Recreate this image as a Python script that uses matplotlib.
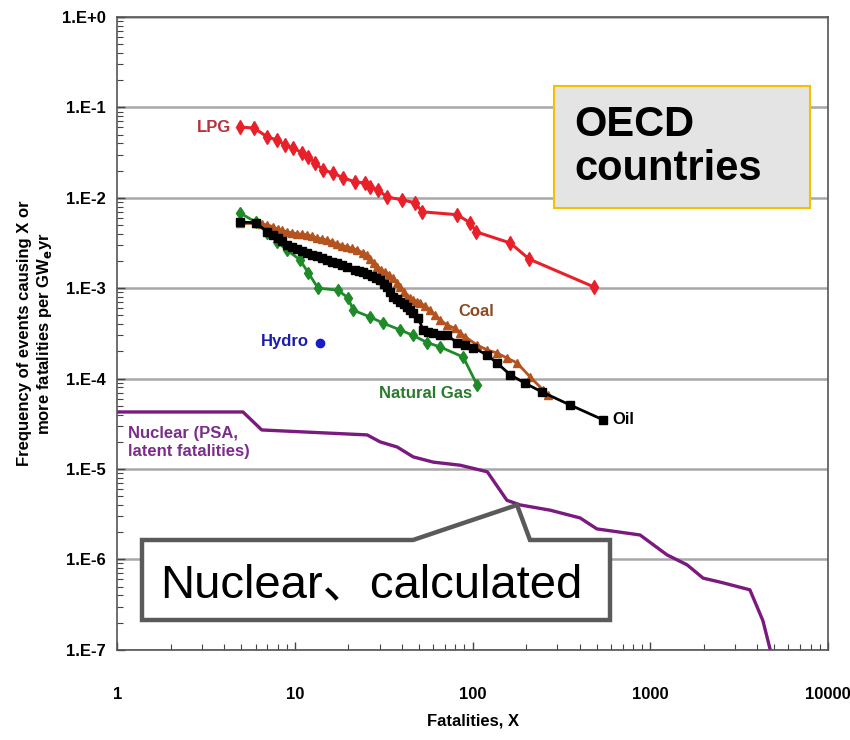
import matplotlib
matplotlib.use("Agg")
import matplotlib.pyplot as plt
from matplotlib.patches import Polygon, Rectangle

plt.rcParams['font.family'] = ['Liberation Sans', 'DejaVu Sans']

# --- data (fatalities X, frequency per GWe-yr) ---
lpg_x = [4.9, 5.9, 7.0, 7.95, 8.8, 9.8, 11.0, 11.9, 13.0, 14.4, 16.4, 18.7, 21.8, 24.8,
         26.5, 29.4, 33.0, 40.1, 47.5, 52.0, 81.8, 96.8, 104.7, 163, 208, 483]
lpg_y = [6.07e-2, 5.9e-2, 4.7e-2, 4.36e-2, 3.84e-2, 3.56e-2, 3.13e-2, 2.83e-2, 2.43e-2,
         2.03e-2, 1.88e-2, 1.66e-2, 1.50e-2, 1.46e-2, 1.32e-2, 1.22e-2, 1.02e-2, 9.5e-3,
         8.8e-3, 7.0e-3, 6.5e-3, 5.3e-3, 4.2e-3, 3.16e-3, 2.1e-3, 1.03e-3]

coal_x = [4.9, 6.0, 6.5, 7.0, 7.5, 8.0, 8.5, 9.0, 9.6, 10.3, 11.0, 11.7, 12.5, 13.3, 14.2,
          15.2, 16.2, 17.3, 18.5, 19.7, 21.0, 22.4, 24.2, 25.3, 26.5, 27.7, 29.0, 30.5,
          32.2, 34.0, 35.7, 37.5, 39.1, 41.0, 42.8, 44.5, 46.3, 48.5, 50.7, 54.0, 57.7,
          61.5, 65.6, 71.9, 79.7, 85.1, 90.8, 106, 121, 137, 156, 178, 211, 249, 266]
coal_y = [5.2e-3, 5.2e-3, 5.1e-3, 5.0e-3, 4.8e-3, 4.5e-3, 4.35e-3, 4.2e-3, 4.1e-3, 4.0e-3,
          3.95e-3, 3.9e-3, 3.75e-3, 3.6e-3, 3.5e-3, 3.4e-3, 3.25e-3, 3.1e-3, 2.95e-3,
          2.86e-3, 2.75e-3, 2.65e-3, 2.45e-3, 2.3e-3, 2.1e-3, 1.9e-3, 1.72e-3, 1.6e-3,
          1.51e-3, 1.4e-3, 1.3e-3, 1.15e-3, 1.03e-3, 9.0e-4, 8.0e-4, 7.7e-4, 7.4e-4,
          7.1e-4, 6.9e-4, 6.3e-4, 5.7e-4, 5.0e-4, 4.45e-4, 3.9e-4, 3.6e-4, 3.2e-4, 2.9e-4,
          2.35e-4, 2.07e-4, 1.92e-4, 1.69e-4, 1.49e-4, 1.04e-4, 7.5e-5, 6.6e-5]

oil_x = [4.9, 6.0, 7.0, 7.5, 8.0, 8.5, 9.0, 9.6, 10.3, 11.0, 11.7, 12.5, 13.3, 14.2, 15.2,
         16.2, 17.3, 18.5, 19.7, 21.8, 23.0, 24.2, 25.6, 27.2, 28.7, 30.2, 31.6, 33.0,
         34.3, 35.7, 37.4, 39.1, 40.9, 42.8, 44.5, 46.3, 49.3, 52.7, 56.0, 60.0, 65.6,
         71.9, 81.8, 90.8, 100.7, 121, 137, 163, 197, 246, 354, 542]
oil_y = [5.4e-3, 5.3e-3, 4.2e-3, 3.9e-3, 3.6e-3, 3.3e-3, 3.0e-3, 2.85e-3, 2.7e-3, 2.55e-3,
         2.45e-3, 2.35e-3, 2.27e-3, 2.15e-3, 2.05e-3, 1.97e-3, 1.9e-3, 1.8e-3, 1.72e-3,
         1.59e-3, 1.55e-3, 1.51e-3, 1.43e-3, 1.36e-3, 1.3e-3, 1.23e-3, 1.12e-3, 1.03e-3,
         9.0e-4, 8.0e-4, 7.5e-4, 7.0e-4, 6.6e-4, 6.2e-4, 5.7e-4, 5.3e-4, 4.7e-4, 3.45e-4,
         3.3e-4, 3.2e-4, 3.0e-4, 3.0e-4, 2.5e-4, 2.35e-4, 2.2e-4, 1.82e-4, 1.49e-4,
         1.1e-4, 8.9e-5, 7.1e-5, 5.1e-5, 3.5e-5]

gas_x = [4.9, 6.0, 7.0, 7.95, 9.0, 10.7, 11.9, 13.5, 17.5, 19.9, 21.3, 26.5, 31.4, 39.1,
         46.3, 55.5, 65.6, 88.5, 106]
gas_y = [6.8e-3, 5.4e-3, 4.1e-3, 3.24e-3, 2.65e-3, 2.05e-3, 1.47e-3, 1.0e-3, 9.5e-4,
         7.8e-4, 5.7e-4, 4.8e-4, 4.1e-4, 3.45e-4, 3.0e-4, 2.5e-4, 2.24e-4, 1.73e-4, 8.5e-5]

hydro_x = [13.9]
hydro_y = [2.5e-4]

nuclear_x = [1.0, 5.1, 6.5, 25.5, 30.2, 37.6, 46.3, 60.0, 85.1, 121, 156, 185, 273,
             403, 501, 876, 1243, 1611, 1983, 2566, 3638, 4305, 4800]
nuclear_y = [4.27e-5, 4.27e-5, 2.7e-5, 2.38e-5, 1.99e-5, 1.75e-5, 1.36e-5, 1.19e-5,
             1.1e-5, 9.3e-6, 4.5e-6, 4.0e-6, 3.5e-6, 2.87e-6, 2.17e-6, 1.86e-6, 1.12e-6,
             8.7e-7, 6.2e-7, 5.5e-7, 4.6e-7, 2.1e-7, 9.0e-8]

x_ticks = [1, 10, 100, 1000, 10000]
x_labels = ["1", "10", "100", "1000", "10000"]
y_ticks = [1e0, 1e-1, 1e-2, 1e-3, 1e-4, 1e-5, 1e-6, 1e-7]
y_labels = ["1.E+0", "1.E-1", "1.E-2", "1.E-3", "1.E-4", "1.E-5", "1.E-6", "1.E-7"]


def main():
    fig = plt.figure(figsize=(8.5, 7.4), dpi=100)
    ax = fig.add_axes([0.138, 0.122, 0.836, 0.855])
    ax.set_xscale("log")
    ax.set_yscale("log")
    ax.set_xlim(1, 10000)
    ax.set_ylim(1e-7, 1)

    for y in y_ticks:
        ax.axhline(y, color="#a8a8a8", lw=1.8, zorder=0)

    ax.plot(nuclear_x, nuclear_y, color="#7a1a7e", lw=2.4, zorder=2)
    ax.plot(lpg_x, lpg_y, color="#e8202a", lw=2.2, marker="d", ms=7, zorder=3)
    ax.plot(coal_x, coal_y, color="#b4531e", lw=2, marker="^", ms=6, zorder=3)
    ax.plot(gas_x, gas_y, color="#1e8a28", lw=2, marker="d", ms=6, zorder=4)
    ax.plot(oil_x, oil_y, color="black", lw=2, marker="s", ms=5.5, zorder=4)
    ax.plot(hydro_x, hydro_y, color="#1a1acc", marker="o", ms=6, ls="none", zorder=4)

    lab = dict(fontsize=12, fontweight="bold", va="center")
    ax.text(4.4, 6.07e-2, "LPG", color="#b8303c", ha="right", **lab)
    ax.text(83, 5.5e-4, "Coal", color="#8b4a22", ha="left", **lab)
    ax.text(12.0, 2.6e-4, "Hydro", color="#1c1cb0", ha="right", **lab)
    ax.text(100, 6.9e-5, "Natural Gas", color="#2a7a2e", ha="right", **lab)
    ax.text(610, 3.5e-5, "Oil", color="black", ha="left", **lab)
    ax.text(1.15, 1.95e-5, "Nuclear (PSA,\nlatent fatalities)", color="#7b2d8b",
            ha="left", linespacing=1.25, **lab)

    ax.set_xticks(x_ticks)
    ax.set_xticklabels(x_labels)
    ax.set_yticks(y_ticks)
    ax.set_yticklabels(y_labels)
    ax.tick_params(which="both", direction="in", top=False, right=False, colors="#444444",
                   labelcolor="black")
    ax.tick_params(which="major", length=6, width=1)
    ax.tick_params(which="minor", length=4, width=0.8)
    ax.tick_params(axis="x", pad=27, labelsize=12)
    ax.tick_params(axis="y", pad=8, labelsize=12)
    for t in ax.get_xticklabels() + ax.get_yticklabels():
        t.set_fontweight("bold")
    for s in ax.spines.values():
        s.set_color("#555555")
        s.set_linewidth(1.2)

    ax.set_xlabel("Fatalities, X", fontsize=12, fontweight="bold", labelpad=8)
    ax.set_ylabel("Frequency of events causing X or\nmore fatalities per GW$_\\mathbf{e}$yr",
                  fontsize=12, fontweight="bold", labelpad=6, linespacing=1.2)

    # OECD box
    fig.patches.append(Rectangle((0.652, 0.719), 0.301, 0.165, transform=fig.transFigure,
                                 facecolor="#e4e4e4", edgecolor="#f2c200", lw=1.5, zorder=5))
    fig.text(0.676, 0.801, "OECD\ncountries", fontsize=30, fontweight="bold",
             ha="left", va="center", linespacing=1.12, zorder=6)

    # callout for the calculated nuclear curve
    W, H = 850.0, 740.0
    pts = [(142, 540), (413, 540), (517, 505), (530, 540), (610, 540), (610, 620), (142, 620)]
    verts = [(px / W, 1 - py / H) for px, py in pts]
    fig.patches.append(Polygon(verts, closed=True, transform=fig.transFigure,
                               facecolor="white", edgecolor="#5a5a5a", lw=3.2,
                               joinstyle="miter", zorder=5))
    fig.text(0.188, 0.209, "Nuclear、calculated", fontsize=34,
             family=["Liberation Sans", "Noto Sans CJK JP"], ha="left", va="center",
             zorder=6)

    fig.savefig("out.png", dpi=100)


if __name__ == "__main__":
    main()
